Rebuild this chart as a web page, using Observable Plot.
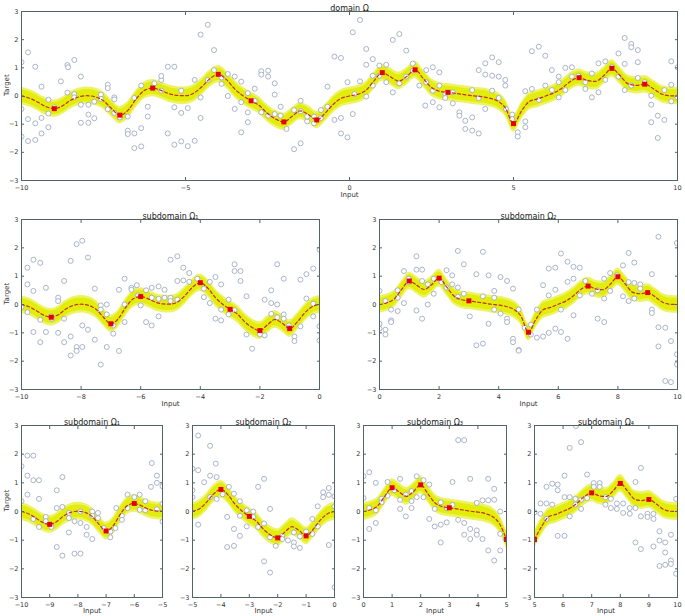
<!DOCTYPE html>
<html><head><meta charset="utf-8">
<script src="https://cdn.jsdelivr.net/npm/d3@7"></script>
<script src="https://cdn.jsdelivr.net/npm/@observablehq/plot@0.6"></script>
<style>
body{margin:0;background:#fff;}
#c{position:relative;width:685px;height:616px;overflow:hidden;}
</style>
</head><body><div id="c"></div>
<script>
// posterior mean
const meanX = [-10,-9.75,-9.5,-9.25,-9,-8.75,-8.5,-8.25,-8,-7.75,-7.5,-7.25,-7,-6.75,-6.5,-6.25,-6,-5.75,-5.5,-5.25,-5,-4.75,-4.5,-4.25,-4,-3.75,-3.5,-3.25,-3,-2.75,-2.5,-2.25,-2,-1.75,-1.5,-1.25,-1,-0.75,-0.5,-0.25,0,0.25,0.5,0.75,1,1.25,1.5,1.75,2,2.25,2.5,2.75,3,3.25,3.5,3.75,4,4.25,4.5,4.75,5,5.25,5.5,5.75,6,6.25,6.5,6.75,7,7.25,7.5,7.75,8,8.25,8.5,8.75,9,9.25,9.5,9.75,10];
const meanY = [0,-0.08,-0.22,-0.38,-0.45,-0.35,-0.15,-0.03,0.01,-0.03,-0.17,-0.45,-0.68,-0.5,-0.1,0.2,0.28,0.2,0.08,0.02,0.01,0.1,0.33,0.62,0.77,0.58,0.25,0.01,-0.17,-0.34,-0.62,-0.82,-0.92,-0.72,-0.53,-0.66,-0.85,-0.62,-0.3,-0.08,0,0.06,0.2,0.54,0.83,0.68,0.53,0.7,0.93,0.62,0.3,0.17,0.13,0.09,0.05,0.01,-0.02,-0.07,-0.17,-0.42,-0.98,-0.52,-0.18,-0.1,0.01,0.12,0.3,0.53,0.65,0.55,0.52,0.72,0.98,0.72,0.43,0.38,0.42,0.27,0.08,0.01,0];
// observed (red squares)
const obsX = [-9,-7,-6,-4,-3,-2,-1,1,2,3,5,7,8,9];
const obsY = [-0.45,-0.68,0.28,0.77,-0.17,-0.92,-0.85,0.83,0.93,0.13,-0.98,0.65,0.98,0.42];

// noisy samples per panel [input, target]
const s0 = [[-10,1.2],[-10,-0.46],[-10,-1.44],[-9.8,1.55],[-9.8,-0.82],[-9.8,-1.6],[-9.58,1.04],[-9.58,-0.97],[-9.58,-1.56],[-9.39,0.33],[-9.39,-0.78],[-9.39,-1.33],[-9.18,-0.13],[-9.18,-0.62],[-9.18,-1.11],[-9.0,-0.4],[-8.8,0.52],[-8.6,1.1],[-8.58,1.02],[-8.6,0.12],[-8.39,1.28],[-8.39,0.07],[-8.39,-0.05],[-8.19,0.69],[-8.19,-0.31],[-8.19,-0.95],[-7.96,-0.31],[-7.96,-0.66],[-7.96,-0.95],[-7.78,-0.2],[-7.78,-0.79],[-7.58,0.05],[-7.58,-0.1],[-7.37,0.4],[-7.37,0.28],[-7.37,-0.47],[-7.17,-0.05],[-7.17,-0.12],[-7.17,-0.6],[-7.0,-0.76],[-6.76,-0.73],[-6.76,-1.23],[-6.76,-1.35],[-6.56,-0.07],[-6.56,-1.33],[-6.56,-1.85],[-6.35,0.37],[-6.35,-1.14],[-6.35,-1.79],[-6.15,-0.38],[-6.15,-0.73],[-6.0,0.3],[-5.95,0.45],[-5.74,0.57],[-5.74,0.71],[-5.74,0.19],[-5.54,1.04],[-5.54,-1.33],[-5.34,1.04],[-5.34,-0.4],[-5.34,-1.73],[-5.13,0.19],[-5.13,-0.6],[-5.13,-1.61],[-4.93,-0.43],[-4.93,-1.78],[-4.72,0.57],[-4.72,-1.59],[-4.54,2.18],[-4.54,-0.05],[-4.54,-0.78],[-4.32,2.53],[-4.32,0.57],[-4.13,1.63],[-4.13,0.92],[-3.9,0.66],[-3.9,0.43],[-3.71,0.78],[-3.71,0.0],[-3.5,0.69],[-3.5,-0.46],[-3.3,0.51],[-3.3,-0.22],[-3.3,-1.29],[-3.1,0.1],[-3.1,-0.93],[-3.1,-0.58],[-2.89,0.26],[-2.89,-0.17],[-2.69,0.88],[-2.69,0.76],[-2.69,-0.58],[-2.48,0.9],[-2.48,0.69],[-2.48,-0.7],[-2.28,0.45],[-2.28,0.05],[-2.28,-0.64],[-2.1,-0.38],[-2.1,-0.7],[-1.92,-1.17],[-1.69,-0.5],[-1.69,-1.89],[-1.49,-0.17],[-1.49,-0.54],[-1.49,-1.68],[-1.29,-0.9],[-1.29,-0.73],[-1.08,-0.73],[-1.08,-0.97],[-0.87,-0.5],[-0.87,-0.78],[-0.67,0.33],[-0.67,-0.38],[-0.46,1.4],[-0.46,-0.85],[-0.26,1.35],[-0.26,-0.78],[-0.26,-1.33],[-0.06,0.49],[-0.06,-1.47],
[0.1,2.26],[0.1,-0.64],[0.15,0.07],[0.32,2.7],[0.32,0.52],[0.51,1.67],[0.51,1.11],[0.51,-0.02],[0.71,1.31],[0.71,0.72],[0.71,0.37],[0.91,1.08],[0.91,0.72],[1.12,1.11],[1.12,0.49],[1.32,1.99],[1.32,0.13],[1.52,2.2],[1.52,0.45],[1.73,1.61],[1.73,0.69],[1.93,1.15],[1.93,0.9],[2.13,0.37],[2.34,0.92],[2.34,0.49],[2.31,-0.34],[2.54,1.02],[2.54,0.19],[2.54,-0.22],[2.74,0.84],[2.74,0.37],[2.74,-0.4],[2.92,0.07],[2.92,-0.07],[3.15,-0.26],[3.15,0.13],[3.35,-0.58],[3.35,-0.7],[3.53,-0.88],[3.53,-1.17],[3.74,0.21],[3.74,-0.76],[3.74,-1.23],[3.94,0.92],[3.94,-0.07],[3.94,-1.33],[4.14,1.16],[4.14,0.76],[4.14,-0.46],[4.35,1.37],[4.35,0.72],[4.35,0.19],[4.55,1.2],[4.55,0.69],[4.55,-0.07],[4.75,0.57],[4.75,0.37],[4.77,-0.46],[4.96,-0.66],[4.96,-0.82],[5.13,-1.29],[5.13,-1.44],[5.36,-0.9],[5.36,-1.11],[5.36,0.17],[5.56,1.59],[5.56,0.25],[5.77,1.75],[5.77,-0.14],[5.97,1.43],[5.97,0.37],[6.17,0.92],[6.17,0.21],[6.38,0.69],[6.38,0.49],[6.38,-0.05],[6.58,1.0],[6.58,0.21],[6.78,1.02],[6.78,0.69],[6.98,0.72],[7.19,0.49],[7.19,0.25],[7.39,-0.05],[7.39,0.8],[7.59,1.16],[7.59,0.13],[7.8,1.23],[7.8,0.57],[8.0,1.02],[8.2,1.51],[8.2,0.69],[8.39,2.06],[8.39,1.14],[8.39,0.21],[8.59,1.85],[8.59,1.73],[8.59,0.37],[8.79,1.63],[8.79,1.2],[8.79,0.64],[9.0,0.49],[9.2,0.01],[9.2,-0.31],[9.2,-0.93],[9.4,-0.7],[9.4,-1.49],[9.6,0.21],[9.6,-0.85],[9.81,1.23],[9.81,0.4],[9.81,-0.19],[10,1.02],[10,-0.05]];

const s1 = [[-10,-0.09],[-9.8,1.3],[-9.8,0.71],[-9.8,-0.27],[-9.6,1.58],[-9.6,0.48],[-9.6,-0.97],[-9.37,1.47],[-9.37,-0.54],[-9.37,-1.33],[-9.18,0.59],[-9.18,-0.97],[-9.0,-0.42],[-8.98,-0.5],[-8.77,0.24],[-8.77,0.12],[-8.77,-1.0],[-8.57,0.83],[-8.57,-0.5],[-8.57,-1.33],[-8.35,1.54],[-8.35,-1.13],[-8.35,-1.8],[-8.15,2.13],[-8.15,-1.5],[-8.15,-1.64],[-7.96,2.25],[-7.96,-0.74],[-7.96,-1.5],[-7.77,1.66],[-7.77,-0.89],[-7.54,0.56],[-7.54,-1.24],[-7.34,-0.03],[-7.34,-0.18],[-7.34,-2.12],[-7.14,0.0],[-7.14,-0.35],[-7.14,-1.5],[-6.92,-0.74],[-6.92,-1.03],[-6.73,0.52],[-6.73,-1.64],[-6.54,0.91],[-6.54,0.0],[-6.54,-0.62],[-6.31,0.59],[-6.31,0.52],[-6.13,0.68],[-6.09,0.32],[-6.0,-0.03],[-5.82,0.5],[-5.82,-0.62],[-5.63,0.59],[-5.63,-0.74],[-5.63,0.24],[-5.4,0.64],[-5.4,0.2],[-5.4,-0.42],[-5.2,0.24],[-5.2,0.52],[-5.0,1.58],[-5.0,0.24],[-5.0,0.12],[-4.77,1.7],[-4.77,0.83],[-4.77,0.17],[-4.57,1.3],[-4.57,0.85],[-4.37,1.11],[-4.37,0.8],[-4.1,0.91],[-3.88,0.56],[-3.88,0.26],[-3.68,0.05],[-3.68,0.8],[-3.49,0.97],[-3.49,-0.5],[-3.3,0.71],[-3.3,-0.56],[-3.3,-0.18],[-3.05,0.17],[-3.05,-0.35],[-2.85,1.42],[-2.85,1.18],[-2.85,-0.2],[-2.65,1.18],[-2.65,0.83],[-2.45,0.29],[-2.45,-1.06],[-2.26,-1.56],[-2.0,-1.05],[-1.84,0.17],[-1.84,-1.09],[-1.62,0.5],[-1.62,0.05],[-1.62,-0.33],[-1.42,1.42],[-1.42,0.0],[-1.42,-0.45],[-1.2,0.91],[-1.2,-0.35],[-1.2,-0.5],[-1.03,-0.74],[-1.03,-0.82],[-0.84,-1.13],[-0.84,-1.29],[-0.64,0.88],[-0.64,-0.77],[-0.44,0.21],[-0.44,1.07],[-0.21,1.27],[-0.21,-0.42],[-0.21,0.03],[0.0,1.94],[0.0,-0.77],[0.0,-1.27]];

const s2 = [[0,0.48],[0,-0.68],[0,-0.85],[0.2,-0.89],[0.2,-1.06],[0.2,0.12],[0.39,-0.18],[0.39,-0.56],[0.39,-0.62],[0.61,0.24],[0.61,-0.23],[0.61,0.5],[0.82,1.18],[0.82,0.05],[0.98,0.91],[0.98,0.79],[1.24,1.7],[1.24,1.23],[1.24,-0.21],[1.43,1.23],[1.43,-0.5],[1.43,0.83],[1.62,0.71],[1.62,0.0],[1.82,0.91],[1.82,0.38],[2.08,0.79],[2.25,1.21],[2.25,0.6],[2.44,1.03],[2.44,0.71],[2.63,1.89],[2.63,0.6],[2.63,0.27],[2.83,1.42],[2.83,0.38],[3.03,-0.42],[3.25,1.07],[3.25,-1.44],[3.47,1.86],[3.47,-1.38],[3.47,0.29],[3.66,1.03],[3.66,-0.68],[3.85,0.48],[3.85,-0.18],[3.85,0.24],[4.06,0.97],[4.06,-0.32],[4.28,0.83],[4.28,-0.5],[4.28,-0.62],[4.48,0.56],[4.48,-1.21],[4.48,-1.33],[4.67,-0.18],[4.67,-1.6],[4.67,-1.63],[4.87,-0.82],[5.08,-0.71],[5.08,-1.06],[5.28,-0.18],[5.28,-1.17],[5.49,0.68],[5.49,-1.13],[5.68,1.27],[5.68,-1.0],[5.68,0.32],[5.9,1.3],[5.9,0.52],[5.9,-0.85],[6.09,1.8],[6.09,-0.18],[6.09,-0.97],[6.31,0.8],[6.31,-1.21],[6.31,1.51],[6.51,0.91],[6.51,-0.38],[6.51,1.33],[6.72,1.3],[6.72,0.32],[6.91,0.83],[7.13,0.38],[7.32,-0.5],[7.32,0.5],[7.54,-0.62],[7.54,0.21],[7.54,0.91],[7.74,1.11],[7.74,0.48],[7.97,1.03],[8.17,1.38],[8.17,0.29],[8.36,1.82],[8.36,0.12],[8.36,0.79],[8.55,1.48],[8.55,0.21],[8.55,0.76],[8.75,0.71],[8.75,0.56],[9.14,1.07],[9.14,-0.18],[9.14,-0.3],[9.36,2.39],[9.36,-0.8],[9.36,-1.48],[9.59,-0.82],[9.59,-2.7],[9.78,-1.29],[9.78,-2.74],[9.98,2.17],[9.98,-1.76],[9.98,-2.12]];

const s3 = [[-10,1.58],[-10,0.36],[-9.79,1.95],[-9.79,1.25],[-9.79,0.59],[-9.58,1.95],[-9.58,1.09],[-9.58,-0.26],[-9.38,1.09],[-9.38,0.44],[-9.38,-0.54],[-9.14,-0.19],[-9.14,-0.34],[-8.96,-0.46],[-8.94,-0.54],[-8.75,0.12],[-8.75,0.74],[-8.75,-1.24],[-8.55,1.2],[-8.55,0.16],[-8.55,-1.54],[-8.32,-0.23],[-8.32,-0.73],[-8.32,-0.05],[-8.12,-0.34],[-8.12,-1.47],[-7.91,0.0],[-7.91,-0.4],[-7.91,-1.47],[-7.69,-0.54],[-7.69,-0.81],[-7.49,0.0],[-7.49,-0.15],[-7.49,-0.96],[-7.29,-0.05],[-7.29,-0.23],[-7.08,-0.58],[-6.85,-0.9],[-6.85,-0.7],[-6.67,-0.58],[-6.64,0.12],[-6.44,-0.15],[-6.44,-0.29],[-6.24,0.59],[-6.24,0.12],[-6.0,0.5],[-5.81,0.59],[-5.81,0.06],[-5.61,0.36],[-5.61,0.04],[-5.41,0.86],[-5.38,1.69],[-5.2,1.25],[-5.2,0.08],[-5.2,1.0],[-5.0,0.88],[-5.0,0.27],[-5.0,-0.35]];

const s4 = [[-5,1.49],[-5,0.74],[-5,0.5],[-4.8,2.65],[-4.8,1.44],[-4.8,-0.46],[-4.59,1.02],[-4.38,2.29],[-4.38,1.25],[-4.38,0.5],[-4.18,1.67],[-4.15,1.2],[-4.15,0.44],[-3.94,0.6],[-3.78,-0.19],[-3.78,-1.24],[-3.72,0.86],[-3.54,-1.2],[-3.54,-0.61],[-3.54,0.62],[-3.33,-0.15],[-3.33,-0.85],[-3.33,0.36],[-3.09,0.04],[-3.09,-0.52],[-2.86,0.0],[-2.86,-0.19],[-2.69,0.86],[-2.69,-0.54],[-2.48,1.14],[-2.48,-1.74],[-2.48,-0.42],[-2.27,0.09],[-2.27,-0.9],[-2.27,-2.13],[-2.07,-1.2],[-1.84,-0.85],[-1.84,-0.96],[-1.64,-1.01],[-1.43,-0.73],[-1.43,-1.08],[-1.43,-1.22],[-1.22,-1.27],[-1.22,-0.87],[-1.0,-0.7],[-0.78,-0.26],[-0.78,-0.78],[-0.59,0.18],[-0.59,-0.52],[-0.4,0.67],[-0.4,0.5],[-0.2,0.82],[-0.2,-1.17],[-0.2,0.58],[0,0.53],[0,-2.64],[0,0.18]];

const s5 = [[0,1.23],[0,0.47],[0.2,1.37],[0.2,-0.61],[0.2,0.12],[0.43,1.0],[0.43,-0.4],[0.43,0.04],[0.63,0.44],[0.63,0.32],[0.84,1.03],[0.84,0.55],[1.08,0.74],[1.28,1.14],[1.28,0.41],[1.28,0.09],[1.48,0.59],[1.48,-0.17],[1.68,0.36],[1.68,0.12],[1.68,0.71],[1.86,1.23],[1.86,0.5],[2.1,1.09],[2.1,0.5],[2.3,0.94],[2.3,-0.26],[2.49,0.09],[2.49,-0.52],[2.7,0.32],[2.7,-0.46],[2.7,-1.08],[2.91,0.12],[2.91,-0.38],[3.11,1.03],[3.11,0.23],[3.31,2.49],[3.31,-0.29],[3.52,2.49],[3.52,-0.81],[3.52,-0.4],[3.73,1.14],[3.73,-0.61],[3.73,-0.96],[3.96,0.3],[3.96,-0.66],[3.96,-0.81],[4.16,0.39],[4.16,-0.96],[4.36,1.14],[4.36,0.39],[4.36,-1.36],[4.57,0.79],[4.57,0.41],[4.57,-1.71],[4.78,0.0],[4.78,-1.36],[4.78,-0.78],[4.97,-0.96]];

const s6 = [[5,-0.03],[5.21,-0.08],[5.21,0.28],[5.42,0.86],[5.42,0.28],[5.42,-0.26],[5.62,0.97],[5.62,0.24],[5.81,0.94],[5.81,0.74],[5.81,-0.85],[6.05,1.25],[6.05,0.5],[6.05,-0.85],[6.23,2.22],[6.23,0.5],[6.23,-0.17],[6.43,0.44],[6.43,0.24],[6.45,2.98],[6.63,2.42],[6.63,0.09],[6.63,0.41],[6.84,1.29],[6.84,0.47],[7.07,0.99],[7.07,0.86],[7.28,0.99],[7.28,0.86],[7.48,0.24],[7.48,0.5],[7.67,0.44],[7.67,0.12],[7.88,0.28],[7.88,0.09],[8.1,-0.05],[8.1,0.28],[8.33,0.12],[8.33,-0.08],[8.53,1.03],[8.53,-1.08],[8.53,0.12],[8.72,1.52],[8.72,-1.31],[8.72,-0.17],[8.95,-0.08],[8.95,-0.19],[9.16,-0.08],[9.16,-1.22],[9.16,-0.26],[9.37,-0.69],[9.37,-1.01],[9.37,-1.9],[9.57,-1.08],[9.57,-1.43],[9.57,-1.86],[9.77,-0.81],[9.77,-1.71],[9.77,-1.83],[9.95,0.44],[9.95,-2.17]];

const yTicks = [-3,-2,-1,0,1,2,3];
const ticksTop = [-10,-5,0,5,10];
const ticksMidL = [-10,-8,-6,-4,-2,0];
const ticksMidR = [0,2,4,6,8,10];
const ticksB1 = [-10,-9,-8,-7,-6,-5];
const ticksB2 = [-5,-4,-3,-2,-1,0];
const ticksB3 = [0,1,2,3,4,5];
const ticksB4 = [5,6,7,8,9,10];
const titles = ["domain \u03A9","subdomain \u03A9\u2081","subdomain \u03A9\u2082","subdomain \u03A9\u2081","subdomain \u03A9\u2082","subdomain \u03A9\u2083","subdomain \u03A9\u2084"];

// layout: [left, top, width, height, mTop, mRight, mBottom, mLeft], xlabel offset
const panels = [
  {box:[0,0,685,200,11,8,20,21], lab:16, dom:[-10,10], ticks:ticksTop, title:titles[0], ylab:true, pts:s0},
  {box:[0,205,330,205,14,11,21,21], lab:16, dom:[-10,0], ticks:ticksMidL, title:titles[1], ylab:true, pts:s1},
  {box:[340,205,345,205,14,8,21,39], lab:16, dom:[0,10], ticks:ticksMidR, title:titles[2], ylab:false, pts:s2},
  {box:[0,409,170,207,16,8,19,21], lab:15.5, dom:[-10,-5], ticks:ticksB1, title:titles[3], ylab:true, pts:s3},
  {box:[170,409,170,207,16,6,19,22], lab:15.5, dom:[-5,0], ticks:ticksB2, title:titles[4], ylab:false, pts:s4},
  {box:[340,409,172,207,16,6,19,23], lab:15.5, dom:[0,5], ticks:ticksB3, title:titles[5], ylab:false, pts:s5},
  {box:[512,409,173,207,16,8,19,22], lab:15.5, dom:[5,10], ticks:ticksB4, title:titles[6], ylab:false, pts:s6}
];

const FONT = "DejaVu Sans";
const FRAME = "#536464";
const fmt = d => (d < 0 ? "\u2212" + Math.abs(d) : String(d));
const container = document.getElementById("c");

for (const p of panels) {
  const [L,T,W,H,mt,mr,mb,ml] = p.box;
  const [a,b] = p.dom;
  const mean = meanX.map((x,i)=>({x, y: meanY[i]})).filter(d => d.x >= a - 1e-9 && d.x <= b + 1e-9);
  const obs = obsX.map((x,i)=>({x, y: obsY[i]})).filter(d => d.x >= a && d.x <= b);
  const pts = p.pts.map(([x,y]) => ({x,y}));
  const marks = [
    Plot.areaY(mean, {x:"x", y1:d=>d.y-0.31, y2:d=>d.y+0.31, fill:"#edf362", curve:"monotone-x", clip:true}),
    Plot.areaY(mean, {x:"x", y1:d=>d.y-0.22, y2:d=>d.y+0.22, fill:"#e2ed0c", curve:"monotone-x", clip:true}),
    Plot.dot(pts, {x:"x", y:"y", r:2.5, fill:"white", stroke:"#9ca8be", strokeWidth:0.85, clip:true}),
    Plot.line(mean, {x:"x", y:"y", stroke:"#c62f1c", strokeWidth:1.2, strokeDasharray:"3,2.4", curve:"monotone-x", clip:true}),
    Plot.dot(obs, {x:"x", y:"y", symbol:"square", r:2.8, fill:"#e4000c", stroke:"none", clip:true}),
    Plot.frame({stroke:FRAME, strokeWidth:1}),
    Plot.axisX({ticks:p.ticks, tickSize:0, tickPadding:4.5, tickFormat:fmt, label:null, fill:"#333"}),
    Plot.axisX({ticks:p.ticks, tickSize:3, text:null, label:null, dy:-3, stroke:FRAME}),
    Plot.axisX({anchor:"top", ticks:p.ticks, tickSize:3, text:null, label:null, dy:3, stroke:FRAME}),
    Plot.axisY({ticks:yTicks, tickSize:0, tickPadding:3, tickFormat:fmt, label:null, fill:"#333"}),
    Plot.axisY({ticks:yTicks, tickSize:3, text:null, label:null, dx:3, stroke:FRAME}),
    Plot.axisY({anchor:"right", ticks:yTicks, tickSize:3, text:null, label:null, dx:-3, stroke:FRAME}),
    Plot.text([p.title], {text:d=>d, frameAnchor:"top", dy:-6, fontSize:8, fill:"#222"}),
    Plot.text(["Input"], {text:d=>d, frameAnchor:"bottom", dy:p.lab, fontSize:7, fill:"#333"})
  ];
  if (p.ylab) marks.push(Plot.text(["Target"], {text:d=>d, frameAnchor:"left", dx:-14.5, rotate:-90, fontSize:7, fill:"#333"}));
  const chart = Plot.plot({
    width:W, height:H,
    marginTop:mt, marginRight:mr, marginBottom:mb, marginLeft:ml,
    x:{domain:p.dom},
    y:{domain:[-3,3]},
    style:{fontFamily:FONT, fontSize:"6.5px", background:"transparent", overflow:"visible"},
    marks
  });
  chart.style.left = L + "px";
  chart.style.top = T + "px";
  chart.style.position = "absolute";
  container.appendChild(chart);
}
</script>
</body></html>
